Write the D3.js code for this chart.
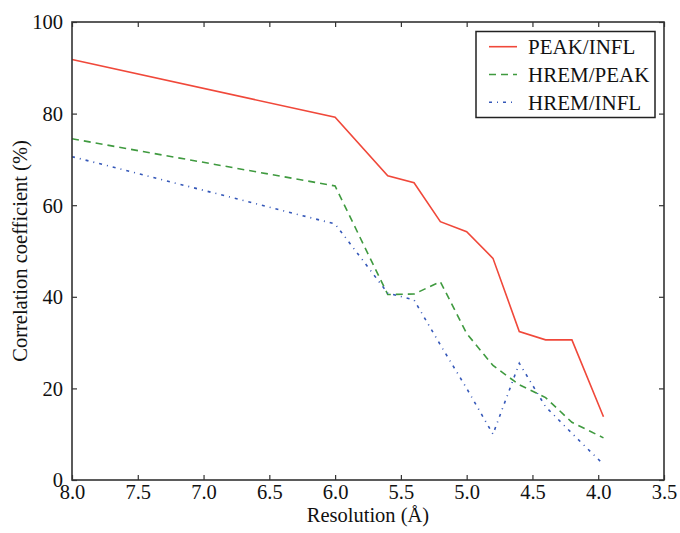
<!DOCTYPE html>
<html>
<head>
<meta charset="utf-8">
<script src="https://cdn.jsdelivr.net/npm/d3@7"></script>
<style>
  html, body { margin: 0; padding: 0; background: #fff; }
  svg { display: block; }
  svg text { font-family: "Liberation Serif", "Times New Roman", Times, "DejaVu Serif", serif !important; }
</style>
</head>
<body>
<svg id="chart" width="680" height="533"></svg>
<script>
const resolution = [8.0, 6.0, 5.6, 5.4, 5.2, 5.0, 4.8, 4.6, 4.4, 4.2, 3.96];
const peakInfl  = [91.8, 79.2, 66.4, 64.9, 56.4, 54.2, 48.4, 32.4, 30.6, 30.6, 13.8];
const hremPeak  = [74.5, 64.2, 40.5, 40.6, 43.3, 32.0, 25.0, 20.8, 18.0, 12.6, 9.2];
const hremInfl  = [70.6, 55.9, 40.8, 39.3, 29.5, 20.0, 10.0, 25.5, 16.0, 10.2, 3.4];
const seriesNames = ["PEAK/INFL", "HREM/PEAK", "HREM/INFL"];
const xTicks = [8.0, 7.5, 7.0, 6.5, 6.0, 5.5, 5.0, 4.5, 4.0, 3.5];
const yTicks = [0, 20, 40, 60, 80, 100];

const series = [
  { name: seriesNames[0], values: peakInfl, color: "#f0483a", dash: null },
  { name: seriesNames[1], values: hremPeak, color: "#3f9a3f", dash: "7,5" },
  { name: seriesNames[2], values: hremInfl, color: "#3457b8", dash: "3,5,1,5" }
];

const svg = d3.select("#chart");
const L = 72, T = 22, R = 664, B = 480;
const x = d3.scaleLinear().domain([8.0, 3.5]).range([L, R]);
const y = d3.scaleLinear().domain([0, 100]).range([B, T]);
const axisColor = "#333";
const fs = 20.5;

const line = d3.line().x((d, i) => x(resolution[i])).y(d => y(d));
series.forEach(s => {
  svg.append("path")
    .datum(s.values)
    .attr("d", line)
    .attr("fill", "none")
    .attr("stroke", s.color)
    .attr("stroke-width", 1.6)
    .attr("stroke-dasharray", s.dash);
});

const tickLen = 5;
const xb = svg.append("g").attr("transform", `translate(0,${B})`)
  .call(d3.axisBottom(x).tickValues(xTicks).tickFormat(d3.format(".1f")).tickSizeInner(-tickLen).tickSizeOuter(0).tickPadding(4));
const xt = svg.append("g").attr("transform", `translate(0,${T})`)
  .call(d3.axisTop(x).tickValues(xTicks).tickFormat("").tickSizeInner(-tickLen).tickSizeOuter(0));
const yl = svg.append("g").attr("transform", `translate(${L},0)`)
  .call(d3.axisLeft(y).tickValues(yTicks).tickSizeInner(-tickLen).tickSizeOuter(0).tickPadding(9));
const yr = svg.append("g").attr("transform", `translate(${R},0)`)
  .call(d3.axisRight(y).tickValues(yTicks).tickFormat("").tickSizeInner(-tickLen).tickSizeOuter(0));

[xb, xt, yl, yr].forEach(g => {
  g.attr("font-family", null);
  g.select(".domain").remove();
  g.selectAll(".tick line").attr("stroke", axisColor).attr("stroke-width", 1.2);
  g.selectAll(".tick text").attr("fill", "#111").style("font-size", fs + "px");
});
yl.selectAll(".tick text").attr("dy", "0.34em");

svg.append("rect")
  .attr("x", L).attr("y", T).attr("width", R - L).attr("height", B - T)
  .attr("fill", "none").attr("stroke", axisColor).attr("stroke-width", 1.6);

svg.append("text")
  .attr("x", (L + R) / 2).attr("y", 522)
  .attr("text-anchor", "middle")
  .attr("fill", "#111")
  .style("font-size", fs + "px")
  .text("Resolution (Å)");

svg.append("text")
  .attr("transform", `translate(27,${(T + B) / 2}) rotate(-90)`)
  .attr("text-anchor", "middle")
  .attr("fill", "#111")
  .style("font-size", fs + "px")
  .text("Correlation coefficient (%)");

const lg = svg.append("g");
lg.append("rect")
  .attr("x", 476).attr("y", 31.5).attr("width", 179).attr("height", 86)
  .attr("fill", "#fff").attr("stroke", "#222").attr("stroke-width", 1.5);
series.forEach((s, i) => {
  const yy = 46.7 + i * 27.8;
  lg.append("line")
    .attr("x1", 489).attr("x2", 517).attr("y1", yy).attr("y2", yy)
    .attr("stroke", s.color).attr("stroke-width", 1.6)
    .attr("stroke-dasharray", s.dash);
  lg.append("text")
    .attr("x", 528).attr("y", yy + 7.5)
    .attr("fill", "#111")
    .style("font-size", "21px")
    .text(s.name);
});
</script>
</body>
</html>
